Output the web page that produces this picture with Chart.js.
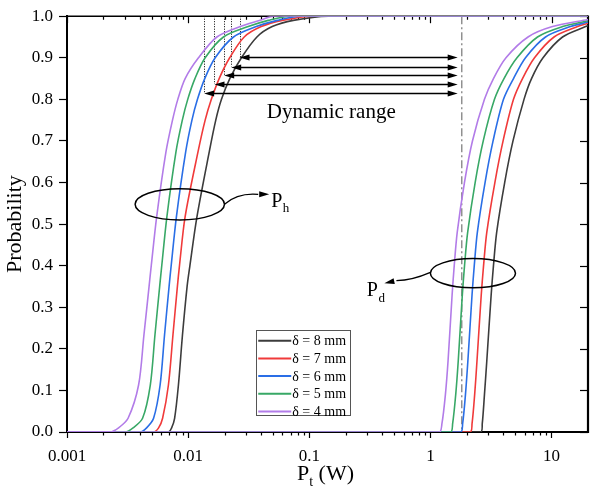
<!DOCTYPE html>
<html><head><meta charset="utf-8">
<script src="https://cdn.jsdelivr.net/npm/chart.js@4/dist/chart.umd.min.js"></script>
<style>html,body{margin:0;padding:0;background:#fff}#wrap{width:590px;height:490px}</style>
</head><body><div id="wrap"><canvas id="c" width="590" height="490"></canvas></div>
<script>
// ---- data ----
const seriesLabels = ['δ = 8 mm', 'δ = 7 mm', 'δ = 6 mm', 'δ = 5 mm', 'δ = 4 mm'];
const seriesColors = ['#3c3c3c', '#f03a3a', '#2a6ee6', '#38a866', '#b27ce8'];

// P_h curves: x (W) at each probability level
const phLevels = [0, 0.01, 0.033, 0.113, 0.232, 0.351, 0.401, 0.518, 0.673, 0.75, 0.8, 0.85, 0.9, 0.95, 0.975, 0.99, 1.0];
const ph8 = [0.006875, 0.007306, 0.007733, 0.008315, 0.008972, 0.009812, 0.01035, 0.01183, 0.01492, 0.01691, 0.01885, 0.02207, 0.02753, 0.03697, 0.04945, 0.07376, 0.1436];
const ph7 = [0.005185, 0.005704, 0.006155, 0.006875, 0.007487, 0.008158, 0.008491, 0.009446, 0.01205, 0.01382, 0.01555, 0.01804, 0.02203, 0.02903, 0.04012, 0.05981, 0.1079];
const ph6 = [0.004012, 0.004541, 0.005185, 0.00587, 0.00638, 0.006966, 0.00725, 0.008006, 0.009536, 0.01075, 0.01194, 0.01371, 0.01672, 0.02368, 0.03648, 0.05438, 0.08425];
const ph5 = [0.003014, 0.003512, 0.004206, 0.004872, 0.005317, 0.005825, 0.006062, 0.006681, 0.007929, 0.008955, 0.009924, 0.01138, 0.01382, 0.01957, 0.03132, 0.04584, 0.06966];
const ph4 = [0.002266, 0.002665, 0.003193, 0.003899, 0.004312, 0.004762, 0.004965, 0.005502, 0.006555, 0.00743, 0.00822, 0.009446, 0.01217, 0.01727, 0.02691, 0.03936, 0.05041];

// P_d curves
const pdLevels = [0, 0.02, 0.09, 0.17, 0.33, 0.40, 0.48, 0.6, 0.7, 0.8, 0.85, 0.9, 0.95, 0.975];
const pd8 = [2.588, 2.680, 2.794, 2.920, 3.174, 3.316, 3.524, 4.104, 4.806, 5.926, 6.836, 8.506, 12.33, 19.10];
const pd7 = [2.121, 2.207, 2.319, 2.423, 2.629, 2.747, 2.920, 3.406, 3.981, 4.853, 5.759, 7.236, 10.49, 16.40];
const pd6 = [1.770, 1.846, 1.947, 2.038, 2.207, 2.302, 2.441, 2.826, 3.291, 4.012, 4.853, 6.098, 8.921, 14.36];
const pd5 = [1.460, 1.526, 1.618, 1.697, 1.835, 1.913, 2.030, 2.341, 2.731, 3.380, 4.050, 5.186, 7.661, 12.33];
const pd4 = [1.180, 1.245, 1.330, 1.398, 1.511, 1.573, 1.665, 1.910, 2.224, 2.794, 3.316, 4.206, 6.395, 10.19];
const pdAtMax = [0.977, 0.983, 0.986, 0.989, 0.992]; // probability at x = 20 W

const xMin = 0.001, xMax = 20;
const xTickValues = [0.001, 0.01, 0.1, 1, 10];
const xTickLabels = ['0.001', '0.01', '0.1', '1', '10'];
const yTickValues = [0, 0.1, 0.2, 0.3, 0.4, 0.5, 0.6, 0.7, 0.8, 0.9, 1.0];
const yTickLabels = ['0.0', '0.1', '0.2', '0.3', '0.4', '0.5', '0.6', '0.7', '0.8', '0.9', '1.0'];

// annotation data
const thresholdX = 1.815;
const rangeY = [0.8155, 0.837, 0.858, 0.879, 0.9016];
const rangeLeftX = [0.01356, 0.0165, 0.01985, 0.02266, 0.02655];
const rangeRightX = 1.68;

const phSets = [ph8, ph7, ph6, ph5, ph4];
const pdSets = [pd8, pd7, pd6, pd5, pd4];

const SERIF = '"Liberation Serif", "Times New Roman", serif';

const datasets = [];
for (let i = 4; i >= 0; i--) {
  const ph = [{x: xMin, y: 0}];
  phSets[i].forEach((v, k) => ph.push({x: v, y: phLevels[k]}));
  ph.push({x: xMax, y: 1});
  const pd = [{x: xMin, y: 0}];
  pdSets[i].forEach((v, k) => pd.push({x: v, y: pdLevels[k]}));
  pd.push({x: xMax, y: pdAtMax[i]});
  const common = {borderColor: seriesColors[i], backgroundColor: seriesColors[i], borderWidth: 1.6,
    pointRadius: 0, fill: false, tension: 0.3};
  datasets.push(Object.assign({label: seriesLabels[i] + ' Ph', data: ph}, common));
  datasets.push(Object.assign({label: seriesLabels[i] + ' Pd', data: pd}, common));
}

function arrowHead(ctx, tx, ty, ang, len, half) {
  ctx.beginPath();
  ctx.moveTo(tx, ty);
  ctx.lineTo(tx - len * Math.cos(ang) + half * Math.sin(ang), ty - len * Math.sin(ang) - half * Math.cos(ang));
  ctx.lineTo(tx - len * Math.cos(ang) - half * Math.sin(ang), ty - len * Math.sin(ang) + half * Math.cos(ang));
  ctx.closePath();
  ctx.fill();
}

const deco = {
  id: 'deco',
  beforeDatasetsDraw(chart) {
    const ctx = chart.ctx, xs = chart.scales.x, ys = chart.scales.y, a = chart.chartArea;
    ctx.save();
    ctx.strokeStyle = '#000';
    for (let e = -3; e <= 1; e++) {
      for (let m = 1; m <= 9; m++) {
        const v = m * Math.pow(10, e);
        if (v < xMin || v >= xMax) continue;
        const px = Math.round(xs.getPixelForValue(v)) + 0.5;
        ctx.lineWidth = 1.2;
        ctx.beginPath();
        if (m === 1) {
          ctx.moveTo(px, a.top); ctx.lineTo(px, a.top + 7);
        } else {
          ctx.moveTo(px, a.top); ctx.lineTo(px, a.top + 3.5);
          ctx.moveTo(px, a.bottom); ctx.lineTo(px, a.bottom + 3.5);
        }
        ctx.stroke();
      }
    }
    yTickValues.forEach(v => {
      const py = Math.round(ys.getPixelForValue(v)) + 0.5;
      ctx.lineWidth = 1.2;
      ctx.beginPath(); ctx.moveTo(a.right, py); ctx.lineTo(a.right - 8, py); ctx.stroke();
    });
    const tx = xs.getPixelForValue(thresholdX);
    ctx.strokeStyle = '#8a8a8a'; ctx.lineWidth = 1.4;
    ctx.setLineDash([8, 3, 2, 3]);
    ctx.beginPath(); ctx.moveTo(tx, a.top); ctx.lineTo(tx, a.bottom); ctx.stroke();
    ctx.setLineDash([]);
    ctx.strokeStyle = '#000'; ctx.lineWidth = 1;
    ctx.setLineDash([1, 1.5]);
    rangeLeftX.forEach((v, i) => {
      const px = Math.round(xs.getPixelForValue(v)) + 0.5;
      ctx.beginPath(); ctx.moveTo(px, a.top); ctx.lineTo(px, ys.getPixelForValue(rangeY[i])); ctx.stroke();
    });
    ctx.setLineDash([]);
    ctx.strokeStyle = '#000';
    ctx.lineWidth = 1.5;
    ctx.beginPath(); ctx.moveTo(a.left, a.top); ctx.lineTo(a.right, a.top); ctx.stroke();
    ctx.lineWidth = 2.2;
    ctx.beginPath(); ctx.moveTo(a.right, a.top - 0.7); ctx.lineTo(a.right, a.bottom + 1); ctx.stroke();
    ctx.restore();
  },
  afterDatasetsDraw(chart) {
    const ctx = chart.ctx, xs = chart.scales.x, ys = chart.scales.y, a = chart.chartArea;
    const X = v => xs.getPixelForValue(v), Y = v => ys.getPixelForValue(v);
    ctx.save();
    ctx.strokeStyle = '#000'; ctx.fillStyle = '#000';
    rangeY.forEach((yv, i) => {
      const py = Math.round(Y(yv)) + 0.5;
      const x0 = X(rangeLeftX[i]), x1 = X(rangeRightX);
      ctx.lineWidth = 1.3;
      ctx.beginPath(); ctx.moveTo(x0 + 6, py); ctx.lineTo(x1 - 6, py); ctx.stroke();
      arrowHead(ctx, x0, py, Math.PI, 10, 3);
      arrowHead(ctx, x1, py, 0, 10, 3);
    });
    ctx.font = '21px ' + SERIF;
    ctx.textAlign = 'center'; ctx.textBaseline = 'alphabetic';
    ctx.fillText('Dynamic range', X(0.152), Y(0.756));

    ctx.lineWidth = 1.5;
    const ell = (x0, x1, y0, y1) => {
      const l = X(x0), r = X(x1), t = Y(y1), b = Y(y0);
      ctx.beginPath(); ctx.ellipse((l + r) / 2, (t + b) / 2, (r - l) / 2, (b - t) / 2, 0, 0, Math.PI * 2); ctx.stroke();
    };
    ell(0.00365, 0.01995, 0.510, 0.585);
    ell(1.0, 5.04, 0.347, 0.417);

    ctx.lineWidth = 1.3;
    ctx.beginPath();
    ctx.moveTo(X(0.01995), Y(0.548));
    ctx.quadraticCurveTo(X(0.0259), Y(0.576), X(0.0379), Y(0.5715));
    ctx.stroke();
    arrowHead(ctx, X(0.0467), Y(0.5715), 0, 10, 3);
    ctx.beginPath();
    ctx.moveTo(X(1.0), Y(0.384));
    ctx.quadraticCurveTo(X(0.71), Y(0.365), X(0.524), Y(0.364));
    ctx.stroke();
    arrowHead(ctx, X(0.417), Y(0.358), Math.atan2(Y(0.358) - Y(0.364), X(0.417) - X(0.524)), 10, 3);

    ctx.textAlign = 'left';
    ctx.font = '20px ' + SERIF;
    let px = X(0.0485), pyb = Y(0.5417);
    ctx.fillText('P', px, pyb);
    let w = ctx.measureText('P').width;
    ctx.font = '13px ' + SERIF;
    ctx.fillText('h', px + w + 0.5, pyb + 5);
    ctx.font = '20px ' + SERIF;
    px = X(0.2985); pyb = Y(0.327);
    ctx.fillText('P', px, pyb);
    w = ctx.measureText('P').width;
    ctx.font = '13px ' + SERIF;
    ctx.fillText('d', px + w + 0.5, pyb + 6);

    const lx = X(0.0365), ly = Y(0.246), lr = X(0.218), lb = Y(0.041);
    ctx.strokeStyle = '#555'; ctx.lineWidth = 1;
    ctx.strokeRect(Math.round(lx) + 0.5, Math.round(ly) + 0.5, Math.round(lr - lx), Math.round(lb - ly));
    ctx.font = '14px ' + SERIF;
    ctx.textBaseline = 'middle';
    for (let i = 0; i < 5; i++) {
      const ry = ly + 11 + i * 17.7;
      ctx.strokeStyle = seriesColors[i]; ctx.lineWidth = 2;
      ctx.beginPath(); ctx.moveTo(lx + 2, ry); ctx.lineTo(lx + 35, ry); ctx.stroke();
      ctx.fillStyle = '#000';
      ctx.fillText(seriesLabels[i], lx + 36, ry + 1);
    }

    ctx.fillStyle = '#000';
    ctx.textBaseline = 'alphabetic';
    ctx.font = '22px ' + SERIF;
    const tW = ctx.measureText('P').width;
    ctx.font = '14px ' + SERIF;
    const sW = ctx.measureText('t').width;
    ctx.font = '22px ' + SERIF;
    const rW = ctx.measureText(' (W)').width;
    let sx = (a.left + a.right) / 2 - (tW + sW + rW) / 2 - 2;
    const by = 480;
    ctx.fillText('P', sx, by);
    ctx.font = '14px ' + SERIF;
    ctx.fillText('t', sx + tW, by + 6);
    ctx.font = '22px ' + SERIF;
    ctx.fillText(' (W)', sx + tW + sW, by);

    ctx.translate(15, (a.top + a.bottom) / 2);
    ctx.rotate(-Math.PI / 2);
    ctx.textAlign = 'center'; ctx.textBaseline = 'middle';
    ctx.fillText('Probability', 0, 0);
    ctx.restore();
  }
};

new Chart(document.getElementById('c'), {
  type: 'line',
  data: {datasets},
  options: {
    responsive: false, animation: false, devicePixelRatio: 1,
    layout: {padding: {left: 7, top: 13, right: 2, bottom: 0}},
    plugins: {legend: {display: false}, tooltip: {enabled: false}},
    scales: {
      x: {
        type: 'logarithmic', min: xMin, max: xMax, position: 'bottom',
        afterBuildTicks: s => { s.ticks = xTickValues.map(v => ({value: v})); },
        afterFit: s => { s.height = 58; },
        ticks: {callback: (v, i) => xTickLabels[i], font: {family: SERIF, size: 17}, color: '#000', padding: 8, maxRotation: 0, autoSkip: false},
        grid: {drawOnChartArea: false, drawTicks: true, tickLength: 6, tickColor: '#000', tickWidth: 1.2},
        border: {display: true, color: '#000', width: 2}
      },
      y: {
        type: 'linear', min: 0, max: 1,
        afterBuildTicks: s => { s.ticks = yTickValues.map(v => ({value: v})); },
        afterFit: s => { s.width = 60; },
        ticks: {callback: (v, i) => yTickLabels[i], font: {family: SERIF, size: 17}, color: '#000', padding: 6},
        grid: {drawOnChartArea: false, drawTicks: true, tickLength: 8, tickColor: '#000', tickWidth: 1.2},
        border: {display: true, color: '#000', width: 2}
      }
    }
  },
  plugins: [deco]
});
</script>
</body></html>
